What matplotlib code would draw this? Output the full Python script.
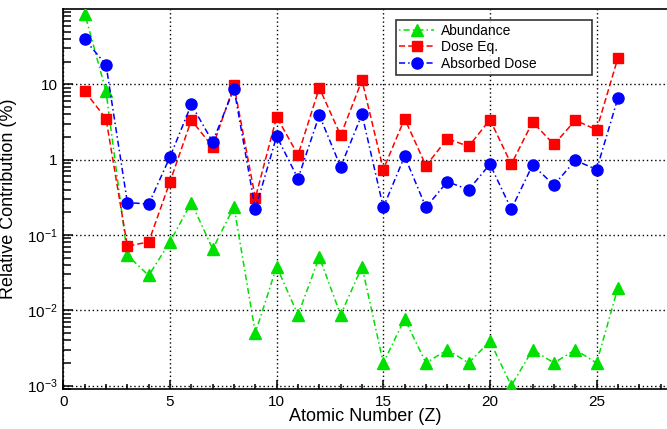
import numpy as np
import matplotlib
matplotlib.use("Agg")
import matplotlib.pyplot as plt
from matplotlib.ticker import LogLocator, FixedLocator, MultipleLocator, FuncFormatter

plt.rcParams['font.family'] = ['Liberation Sans', 'DejaVu Sans']
plt.rcParams['mathtext.fontset'] = 'custom'
plt.rcParams['mathtext.rm'] = 'Liberation Sans'
plt.rcParams['mathtext.it'] = 'Liberation Sans:italic'

# Atomic number Z
z = np.arange(1, 27)

# Relative contribution (%)
abundance = [87, 8.1, 0.054, 0.029, 0.081, 0.27, 0.065, 0.237, 0.005, 0.038,
             0.0087, 0.051, 0.0087, 0.038, 0.002, 0.0077, 0.002, 0.003, 0.002,
             0.0039, 0.001, 0.003, 0.002, 0.003, 0.002, 0.02]
dose_eq = [8.1, 3.5, 0.071, 0.081, 0.51, 3.35, 1.48, 9.7, 0.31, 3.7,
           1.15, 9.0, 2.1, 11.3, 0.74, 3.5, 0.83, 1.9, 1.5,
           3.4, 0.87, 3.16, 1.59, 3.33, 2.5, 22.5]
absorbed = [39.5, 18.2, 0.27, 0.257, 1.09, 5.4, 1.72, 8.8, 0.22, 2.05,
            0.56, 3.9, 0.80, 4.0, 0.233, 1.11, 0.233, 0.51, 0.40,
            0.87, 0.22, 0.85, 0.46, 0.98, 0.74, 6.6]

fig = plt.figure(figsize=(6.67, 4.29), dpi=100)
ax = fig.add_axes([0.095, 0.093, 0.905, 0.886])

ax.plot(z, abundance, color='#00e000', linestyle=(0, (1, 2, 4, 2)), lw=1.1,
        marker='^', markersize=8.3, label='Abundance', zorder=3)
ax.plot(z, dose_eq, color='#ff0000', linestyle=(0, (4, 2)), lw=1.1,
        marker='s', markersize=7.7, label='Dose Eq.', zorder=3)
ax.plot(z, absorbed, color='#0000ff', linestyle=(0, (4, 2, 1, 2)), lw=1.1,
        marker='o', markersize=8.0, label='Absorbed Dose', zorder=3)

ax.set_yscale('log')
ax.set_xlim(0, 28.3)
ax.set_ylim(9e-4, 100)

ax.xaxis.set_major_locator(FixedLocator([0, 5, 10, 15, 20, 25]))
ax.xaxis.set_minor_locator(MultipleLocator(1))
ax.yaxis.set_major_locator(FixedLocator([1e-3, 1e-2, 1e-1, 1, 10]))
ax.yaxis.set_minor_locator(LogLocator(base=10, subs=np.arange(2, 10)))


def yfmt(v, pos):
    if v >= 1:
        return '%d' % round(v)
    return r'$10^{%d}$' % round(np.log10(v))


ax.yaxis.set_major_formatter(FuncFormatter(yfmt))
ax.yaxis.set_minor_formatter(FuncFormatter(lambda v, p: ''))

ax.tick_params(which='both', direction='in', top=False, right=False,
               labelsize=11, width=1.1)
ax.tick_params(axis='x', which='major', length=6.5, pad=4)
ax.tick_params(axis='x', which='minor', length=3.5)
ax.tick_params(axis='y', which='major', length=7, pad=4)
ax.tick_params(axis='y', which='minor', length=6)

ax.grid(True, which='major', color='black', linestyle=(0, (1, 2)), lw=1.0)

for s in ['left', 'bottom', 'top']:
    ax.spines[s].set_linewidth(1.2)
ax.spines['right'].set_visible(False)

ax.set_xlabel('Atomic Number (Z)', fontsize=13)
ax.xaxis.set_label_coords(0.5, -0.05)
ax.set_ylabel('Relative Contribution (%)', fontsize=13)
ax.yaxis.set_label_coords(-0.076, 0.5)

leg = ax.legend(loc='upper left', bbox_to_anchor=(0.551, 0.834, 0.3245, 0.137),
                mode='expand', fontsize=10,
                frameon=True, fancybox=False, edgecolor='black',
                handlelength=2.5, borderpad=0.25, labelspacing=0.2,
                handletextpad=0.5, borderaxespad=0)
leg.get_frame().set_linewidth(1.2)

fig.savefig('out.png', dpi=100)
